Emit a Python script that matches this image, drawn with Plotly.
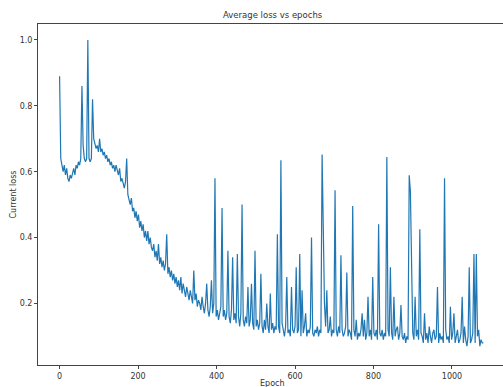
import plotly.graph_objects as go

# Epoch sampling (every 3rd epoch)
epochs = list(range(0, 1083, 3))

loss = [
    0.89, 0.64, 0.62, 0.60, 0.62, 0.59, 0.61, 0.58, 0.57, 0.59,
    0.58, 0.60, 0.61, 0.59, 0.62, 0.61, 0.63, 0.62, 0.64, 0.86,
    0.68, 0.64, 0.63, 0.64, 1.00, 0.64, 0.63, 0.64, 0.82, 0.70,
    0.68, 0.67, 0.68, 0.66, 0.70, 0.66, 0.67, 0.65, 0.66, 0.64,
    0.65, 0.63, 0.64, 0.62, 0.63, 0.61, 0.62, 0.60, 0.62, 0.60,
    0.59, 0.61, 0.57, 0.58, 0.56, 0.55, 0.57, 0.64, 0.53, 0.51,
    0.50, 0.52, 0.48, 0.49, 0.46, 0.48, 0.45, 0.47, 0.43, 0.45,
    0.42, 0.44, 0.40, 0.42, 0.39, 0.42, 0.38, 0.40, 0.37, 0.36,
    0.38, 0.34, 0.36, 0.33, 0.38, 0.32, 0.34, 0.31, 0.33, 0.30,
    0.32, 0.41, 0.29, 0.31, 0.28, 0.30, 0.27, 0.29, 0.26, 0.28,
    0.25, 0.27, 0.24, 0.28, 0.23, 0.26, 0.24, 0.22, 0.25, 0.23,
    0.21, 0.24, 0.22, 0.20, 0.30, 0.21, 0.23, 0.19, 0.21, 0.20,
    0.18, 0.22, 0.19, 0.17, 0.20, 0.26, 0.18, 0.16, 0.19, 0.27,
    0.17, 0.20, 0.58, 0.16, 0.18, 0.15, 0.17, 0.19, 0.49, 0.16,
    0.18, 0.15, 0.17, 0.36, 0.16, 0.14, 0.18, 0.34, 0.15, 0.17,
    0.14, 0.35, 0.16, 0.13, 0.17, 0.50, 0.15, 0.13, 0.16, 0.14,
    0.25, 0.13, 0.15, 0.26, 0.14, 0.12, 0.36, 0.13, 0.15, 0.12,
    0.14, 0.29, 0.13, 0.11, 0.15, 0.12, 0.20, 0.13, 0.11, 0.23,
    0.12, 0.14, 0.11, 0.13, 0.12, 0.41, 0.13, 0.11, 0.635, 0.14,
    0.12, 0.10, 0.13, 0.28, 0.11, 0.12, 0.10, 0.25, 0.12, 0.11,
    0.13, 0.31, 0.11, 0.12, 0.35, 0.10, 0.24, 0.11, 0.13, 0.17,
    0.10, 0.12, 0.11, 0.13, 0.40, 0.11, 0.10, 0.12, 0.11, 0.13,
    0.10, 0.12, 0.11, 0.652, 0.43, 0.20, 0.13, 0.24, 0.11, 0.12,
    0.16, 0.10, 0.12, 0.11, 0.544, 0.12, 0.10, 0.13, 0.11, 0.346,
    0.12, 0.10, 0.11, 0.13, 0.294, 0.10, 0.12, 0.11, 0.09, 0.496,
    0.12, 0.10, 0.15, 0.09, 0.11, 0.10, 0.12, 0.17, 0.10, 0.15,
    0.09, 0.11, 0.22, 0.10, 0.12, 0.09, 0.28, 0.11, 0.10, 0.12,
    0.09, 0.44, 0.11, 0.10, 0.12, 0.09, 0.11, 0.10, 0.645, 0.12,
    0.10, 0.31, 0.11, 0.09, 0.22, 0.10, 0.12, 0.13, 0.09, 0.11,
    0.195, 0.10, 0.09, 0.11, 0.08, 0.10, 0.09, 0.589, 0.54, 0.25,
    0.11, 0.09, 0.22, 0.10, 0.12, 0.09, 0.425, 0.11, 0.10, 0.08,
    0.17, 0.09, 0.11, 0.08, 0.13, 0.10, 0.08, 0.11, 0.12, 0.09,
    0.10, 0.25, 0.08, 0.11, 0.09, 0.10, 0.08, 0.58, 0.12, 0.09,
    0.10, 0.08, 0.19, 0.09, 0.11, 0.17, 0.08, 0.10, 0.12, 0.08,
    0.09, 0.11, 0.22, 0.08, 0.13, 0.09, 0.07, 0.10, 0.31, 0.08,
    0.09, 0.11, 0.35, 0.08, 0.35, 0.10, 0.12, 0.07, 0.09, 0.08,
    0.08, 0.09,
]

x_ticks = [0, 200, 400, 600, 800, 1000]
y_ticks = [0.2, 0.4, 0.6, 0.8, 1.0]

n = min(len(epochs), len(loss))

FONT = "DejaVu Sans"
TXT = "#333333"

fig = go.Figure()
fig.add_trace(go.Scatter(
    x=epochs[:n], y=loss[:n], mode="lines",
    line=dict(color="#1f77b4", width=1.2),
    showlegend=False, hoverinfo="skip",
))

fig.update_layout(
    width=503, height=387,
    margin=dict(l=38, r=0, t=24, b=22, autoexpand=False),
    paper_bgcolor="white", plot_bgcolor="white",
    font=dict(family=FONT, size=8, color=TXT),
    xaxis=dict(
        range=[-55, 1130], tickvals=x_ticks, ticktext=[str(v) for v in x_ticks],
        showgrid=False, zeroline=False, showline=True, mirror=True,
        linecolor="#444444", linewidth=1, ticks="outside", ticklen=3,
        tickcolor="#444444", tickfont=dict(size=8, color=TXT), automargin=False,
    ),
    yaxis=dict(
        range=[0.013, 1.0485], tickvals=y_ticks, ticktext=[f"{v:.1f}" for v in y_ticks],
        showgrid=False, zeroline=False, showline=True, mirror=False,
        linecolor="#444444", linewidth=1, ticks="outside", ticklen=3,
        tickcolor="#444444", tickfont=dict(size=8, color=TXT), automargin=False,
    ),
    annotations=[
        dict(text="Average loss vs epochs", xref="paper", yref="paper", x=0.5, y=1,
             xanchor="center", yanchor="bottom", yshift=2, xshift=2, showarrow=False,
             font=dict(family=FONT, size=8.5, color=TXT)),
        dict(text="Epoch", xref="paper", yref="paper", x=0.5, y=0,
             xanchor="center", yanchor="top", yshift=-12, xshift=2, showarrow=False,
             font=dict(family=FONT, size=8, color=TXT)),
        dict(text="Current loss", xref="paper", yref="paper", x=0, y=0.5,
             xanchor="center", yanchor="middle", xshift=-25, textangle=-90,
             showarrow=False, font=dict(family=FONT, size=8, color=TXT)),
    ],
)

fig.write_html(
    "out.html",
    config={"displayModeBar": False, "staticPlot": True},
    post_script="document.body.style.margin='0';document.body.style.padding='0';document.body.style.overflow='hidden';",
)
